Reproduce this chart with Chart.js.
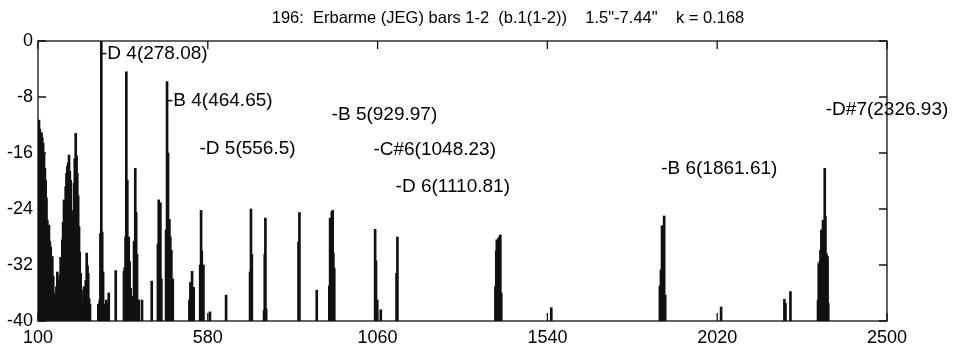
<!DOCTYPE html>
<html><head><meta charset="utf-8">
<script src="https://cdn.jsdelivr.net/npm/chart.js@4"></script>
<style>html,body{margin:0;padding:0;background:#fff}</style>
</head><body>
<canvas id="c" width="953" height="346"></canvas>
<script>
const titleText = '196:  Erbarme (JEG) bars 1-2  (b.1(1-2))    1.5"-7.44"    k = 0.168';

const freqs = [
  102.8,105,107.5,110,112,114.5,117,119.5,121.7,124,126.4,128.7,131,133.5,136,138,140.5,143,145,147.5,
  150,152,154.6,157,159.4,162,164,166.5,168.7,171,173.5,176,178.3,180.5,183,185.5,187.7,190,192.4,195,
  197,199.5,201.8,204,206.6,209,211,213.5,216,218,220.7,223,225,227.5,230,232.5,235,237.7,240,242,244.5,247,
  270.6,274.5,276.5,279,281.5,284,286,293,298,300,319.7,343,345,347.5,349.7,352.5,356.4,359,362,366.7,
  371.5,375,377.5,380,384.7,394,421.5,439,441.3,444,446,448.8,462,464.8,467.6,471.4,474,477,481,
  528,530.8,533,535.5,540,
  558.5,561,563,567.6,586,631.7,699.5,702,704.5,739,741,742.8,745,836.5,839,888,
  923.5,925.8,928,930.5,933,935,937.5,1053,1055.5,1059,1069,1113.5,1116,
  1393,1395.5,1397,1400,1402,1404,1407,1409.5,1551,
  1858,1861,1864,1867,1870,1873,2031,2210,2213,2227,
  2305,2307,2310,2312,2314.5,2317,2319,2321.5,2324,2326,2329,2332,2334
];
const levels = [
  -11.3,-12.6,-13.4,-13.1,-13.8,-14.6,-16.1,-18.2,-19.9,-22.4,-25.6,-27.6,-26.3,-28.6,-29.4,-31.2,-30.8,-33.6,-36,-37.2,
  -36.5,-35.1,-33,-35.3,-34.1,-33.4,-30.9,-31.6,-28.4,-25.9,-22.7,-23.6,-20.8,-18.9,-17.9,-17.4,-16.3,-18.6,-19.9,-24.2,
  -28.4,-25.1,-20.3,-16.8,-13.2,-16.4,-18.9,-22.1,-26.5,-30.2,-33.2,-35.6,-37,-38.2,-35.1,-37.6,-34.2,-30.3,-32.1,-33.2,-36.8,-37.6,
  -37.6,-37,-27.5,0,-27.3,-33,-37.6,-37,-37.5,-36,-32.8,-32.9,-32.4,-28,-4.4,-19.9,-28,-31.5,-35.3,-36.5,
  -28.6,-18.2,-24.5,-30.5,-37,-37,-34.3,-29,-22.7,-25,-23.1,-34,-27,-5.8,-16,-25.5,-28,-29.9,-34,
  -37,-34.5,-36,-32.9,-35.2,
  -32,-24.2,-30,-32,-38.7,-36.3,-33,-24,-30.5,-38.5,-30.5,-25.3,-38.3,-28.7,-24.5,-35.6,
  -35,-25.3,-26,-24.4,-24.2,-30.3,-32.5,-26.9,-31.4,-37,-38.4,-33.2,-28,
  -35.1,-30,-28.4,-28.8,-28.2,-28,-27.7,-36,-38.1,
  -35,-32.7,-26.4,-26.5,-25,-36.3,-38,-36.9,-37.5,-35.8,
  -37,-31.8,-31.5,-29.9,-27,-27.2,-25.6,-25.6,-18.2,-25.1,-30.4,-30.8,-37.5
];

const noteNames = ['D 4','B 4','D 5','B 5','C#6','D 6','B 6','D#7'];
const noteFreqs = [278.08,464.65,556.5,929.97,1048.23,1110.81,1861.61,2326.93];
const noteLabelLevels = [-1.8,-8.6,-15.4,-10.6,-15.6,-20.8,-18.3,-9.8];

const xTickValues = [100,580,1060,1540,2020,2500];
const yTickValues = [0,-8,-16,-24,-32,-40];
const floorLevel = -40;

const FONT = '"Liberation Sans", Arial, Helvetica, sans-serif';

const framePlugin = {
  id: 'frame',
  afterDatasetsDraw(chart) {
    const {ctx, chartArea: a, scales: {x, y}} = chart;
    ctx.save();
    // title
    ctx.fillStyle = '#000';
    ctx.font = '16.5px ' + FONT;
    ctx.textAlign = 'center';
    ctx.textBaseline = 'middle';
    ctx.fillText(titleText, 508, 18);
    // frame and inward ticks
    ctx.strokeStyle = '#111';
    ctx.lineWidth = 1.3;
    ctx.strokeRect(a.left, a.top, a.right - a.left, a.bottom - a.top);
    const tl = 8;
    ctx.beginPath();
    xTickValues.forEach(v => {
      const px = x.getPixelForValue(v);
      ctx.moveTo(px, a.bottom); ctx.lineTo(px, a.bottom - tl);
      ctx.moveTo(px, a.top); ctx.lineTo(px, a.top + tl);
    });
    yTickValues.forEach(v => {
      const py = y.getPixelForValue(v);
      ctx.moveTo(a.left, py); ctx.lineTo(a.left + tl, py);
      ctx.moveTo(a.right, py); ctx.lineTo(a.right - tl, py);
    });
    ctx.stroke();
    // note annotations
    ctx.font = '19px ' + FONT;
    ctx.textAlign = 'left';
    noteNames.forEach((n, i) => {
      ctx.fillText('-' + n + '(' + noteFreqs[i] + ')',
        x.getPixelForValue(noteFreqs[i]), y.getPixelForValue(noteLabelLevels[i]));
    });
    ctx.restore();
  }
};

new Chart(document.getElementById('c'), {
  type: 'bar',
  data: {
    datasets: [{
      data: freqs.map((f, i) => ({x: f, y: levels[i]})),
      base: floorLevel,
      backgroundColor: '#111',
      borderWidth: 0,
      barThickness: 2,
      grouped: false
    }]
  },
  options: {
    responsive: false,
    animation: false,
    devicePixelRatio: 1,
    layout: {padding: {left: 0, right: 66, top: 41, bottom: 0}},
    plugins: {
      legend: {display: false},
      tooltip: {enabled: false},
      title: {display: false}
    },
    scales: {
      x: {
        type: 'linear', min: 100, max: 2500, offset: false,
        grid: {display: false, drawTicks: false, offset: false},
        border: {display: false},
        afterBuildTicks: s => { s.ticks = xTickValues.map(v => ({value: v})); },
        ticks: {color: '#000', font: {family: FONT, size: 18}, padding: 6, maxRotation: 0, autoSkip: false,
                callback: v => String(v)},
        afterFit: s => { s.height = 25; }
      },
      y: {
        type: 'linear', min: -40, max: 0,
        grid: {display: false, drawTicks: false},
        border: {display: false},
        afterBuildTicks: s => { s.ticks = yTickValues.map(v => ({value: v})); },
        ticks: {color: '#000', font: {family: FONT, size: 18}, padding: 5, callback: v => String(v)},
        afterFit: s => { s.width = 38; }
      }
    }
  },
  plugins: [framePlugin]
});
</script>
</body></html>
